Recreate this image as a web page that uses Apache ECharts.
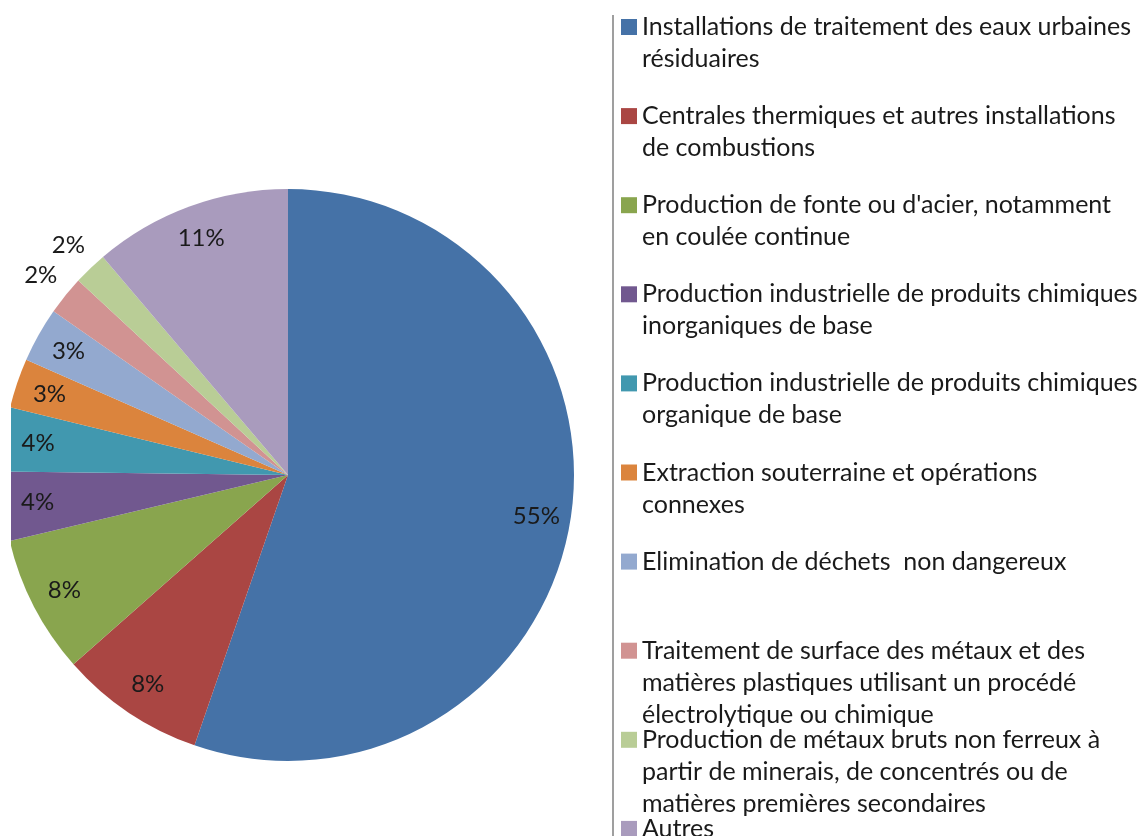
<!DOCTYPE html>
<html>
<head>
<meta charset="utf-8">
<script src="https://cdn.jsdelivr.net/npm/echarts@6/dist/echarts.min.js"></script>
<style>
  html, body { margin: 0; padding: 0; background: #fff; }
  #chart { width: 1143px; height: 836px; }
</style>
</head>
<body>
<div id="chart"></div>
<script>
const categories = [
  'Installations de traitement des eaux urbaines\nrésiduaires',
  'Centrales thermiques et autres installations\nde combustions',
  "Production de fonte ou d'acier, notamment\nen coulée continue",
  'Production industrielle de produits chimiques\ninorganiques de base',
  'Production industrielle de produits chimiques\norganique de base',
  'Extraction souterraine et opérations\nconnexes',
  'Elimination de déchets  non dangereux',
  'Traitement de surface des métaux et des\nmatières plastiques utilisant un procédé\nélectrolytique ou chimique',
  'Production de métaux bruts non ferreux à\npartir de minerais, de concentrés ou de\nmatières premières secondaires',
  'Autres'
]
const shares = [55.3, 8.2, 7.8, 3.9, 3.6, 2.8, 3.1, 2.2, 1.9, 11.2]
const colors = ['#4572A7', '#AA4643', '#89A54E', '#71588F', '#4198AF', '#DB843D', '#93A9CF', '#D19392', '#B9CD96', '#A99BBD']
// slices whose labels sit outside the pie
const outsideLabels = [7, 8]

const FONT = 'Lato'
const LINE_H = 32
const CENTER = [288, 475]
const R = 286
const LEGEND_TOP = 27
const LEGEND_STEP = 89.1

const chart = echarts.init(document.getElementById('chart'), null, { renderer: 'canvas' })

const pctLabel = p => Math.round(p.percent) + '%'

// one legend per entry so every entry keeps the fixed row step of the original,
// blank lines in front keep the swatch on the first text line
const legends = categories.map((name, i) => {
  const n = name.split('\n').length
  const cy = LEGEND_TOP + i * LEGEND_STEP
  return {
    data: [name],
    orient: 'vertical',
    left: 621,
    top: cy - (2 * n - 1) * LINE_H / 2,
    padding: 0,
    itemWidth: 16,
    itemHeight: 16,
    selectedMode: false,
    icon: 'rect',
    formatter: txt => '\n'.repeat(n - 1) + txt,
    textStyle: {
      fontFamily: FONT,
      fontSize: 25,
      color: '#1a1a1a',
      lineHeight: LINE_H
    }
  }
})

const labelStyle = {
  show: true,
  position: 'inside',
  formatter: pctLabel,
  fontFamily: FONT,
  fontSize: 24,
  color: '#1a1a1a'
}

const option = {
  backgroundColor: '#fff',
  animation: false,
  color: colors,
  legend: legends,
  series: [
    {
      type: 'pie',
      center: CENTER,
      radius: [0, R],
      startAngle: 90,
      label: { show: false },
      labelLine: { show: false },
      itemStyle: { borderWidth: 0 },
      silent: true,
      data: categories.map((name, i) => ({ name, value: shares[i] }))
    },
    {
      type: 'pie',
      center: CENTER,
      radius: [R * 0.74, R],
      startAngle: 90,
      silent: true,
      avoidLabelOverlap: false,
      itemStyle: { color: 'rgba(0,0,0,0)' },
      labelLine: { show: false },
      label: labelStyle,
      data: categories.map((name, i) => ({
        name,
        value: shares[i],
        label: { show: !outsideLabels.includes(i) }
      }))
    },
    {
      type: 'pie',
      center: CENTER,
      radius: [R * 1.04, R * 1.16],
      startAngle: 90,
      silent: true,
      avoidLabelOverlap: false,
      itemStyle: { color: 'rgba(0,0,0,0)' },
      labelLine: { show: false },
      label: labelStyle,
      data: categories.map((name, i) => ({
        name,
        value: shares[i],
        label: { show: outsideLabels.includes(i) }
      }))
    }
  ],
  graphic: [
    // the source picture is cropped on its left edge
    { type: 'rect', shape: { x: 0, y: 0, width: 11, height: 836 }, style: { fill: '#fff' }, z: 100 },
    { type: 'line', shape: { x1: 613, y1: 15, x2: 613, y2: 836 }, style: { stroke: '#7f7f7f', lineWidth: 1.5 }, z: 100 }
  ]
}

chart.setOption(option)
</script>
</body>
</html>
